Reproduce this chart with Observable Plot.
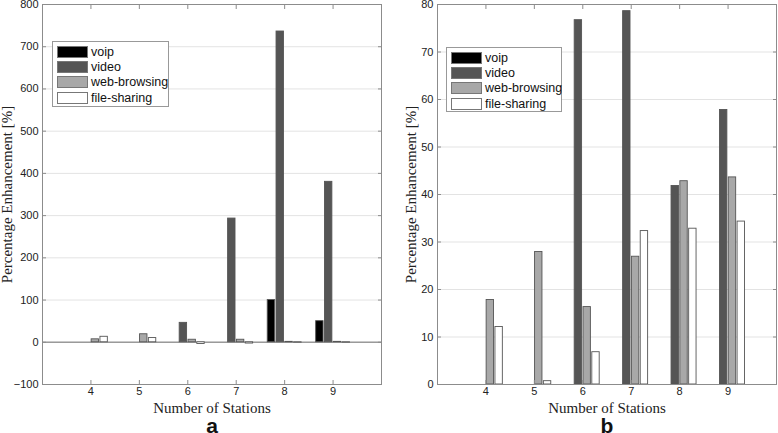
<!DOCTYPE html>
<html>
<head>
<meta charset="utf-8">
<script src="https://cdn.jsdelivr.net/npm/d3@7"></script>
<script src="https://cdn.jsdelivr.net/npm/@observablehq/plot@0.6"></script>
<style>
  html, body { margin: 0; padding: 0; background: #fff; }
  #wrap { position: relative; width: 778px; height: 433px; display: flex; }
  .legend { position: absolute; border: 1px solid #999; background: #fff; font-family: "Liberation Sans", Arial, sans-serif; font-size: 12.5px; color: #111; padding: 2px 4px 1px 4px; box-sizing: border-box; white-space: nowrap; }
  .legend .row { display: flex; align-items: center; height: 15.3px; }
  .legend .sw { width: 31px; height: 12px; border: 1px solid #777; box-sizing: border-box; margin-right: 3px; flex: none; }
</style>
</head>
<body>
<div id="wrap"></div>
<script>
const stations = [4, 5, 6, 7, 8, 9];
const seriesNames = ["voip", "video", "web-browsing", "file-sharing"];
const seriesColors = ["#000000", "#555555", "#a8a8a8", "#ffffff"];

// Panel a
const voipA  = [0, 0, 0, 0, 100, 50];
const videoA = [0, 0, 46, 293, 736, 380];
const webA   = [7, 19, 6, 6, 1, 1];
const fileA  = [13, 10, -4, -3, -1, -1];
const yTicksA = [-100, 0, 100, 200, 300, 400, 500, 600, 700, 800];

// Panel b
const voipB  = [0, 0, 0, 0, 0, 0];
const videoB = [0, 0, 76.7, 78.6, 41.8, 57.8];
const webB   = [17.8, 27.9, 16.3, 26.9, 42.8, 43.6];
const fileB  = [12.1, 0.7, 6.8, 32.3, 32.8, 34.3];
const yTicksB = [0, 10, 20, 30, 40, 50, 60, 70, 80];

const xLabel = "Number of Stations";
const yLabel = "Percentage Enhancement [%]";

function buildRows(seriesArrays) {
  const n = seriesArrays.length;
  const groupWidth = Math.min(0.8, n / (n + 1.5));
  const barW = 0.8 * groupWidth / n * 1.05;
  const rows = [];
  seriesArrays.forEach((arr, i) => {
    const off = -groupWidth / 2 + (2 * i + 1) * groupWidth / (2 * n);
    arr.forEach((v, j) => {
      if (v === 0) return;
      rows.push({series: seriesNames[i], station: stations[j], value: v,
                 x1: stations[j] + off - barW / 2, x2: stations[j] + off + barW / 2});
    });
  });
  return rows;
}

function panel(opts) {
  const rows = buildRows(opts.series);
  const sans = "Liberation Sans, Arial, sans-serif";
  const serif = "Liberation Serif, Times New Roman, serif";
  return Plot.plot({
    width: 389, height: 433,
    marginTop: 4, marginBottom: 49, marginLeft: opts.ml, marginRight: opts.mr,
    style: {fontFamily: sans, fontSize: "11px", color: "#222", background: "#fff"},
    x: {domain: [3, 10], ticks: stations},
    y: {domain: opts.yDomain, ticks: opts.yTicks},
    color: {domain: seriesNames, range: seriesColors},
    marks: [
      Plot.ruleY(opts.yTicks, {stroke: "#e3e3e3", strokeWidth: 1}),
      opts.zeroLine ? Plot.ruleY([0], {stroke: "#9a9a9a", strokeWidth: 1.5}) : null,
      Plot.rectY(rows, {x1: "x1", x2: "x2", y1: 0, y2: "value", fill: "series", stroke: "#555", strokeWidth: 0.9}),
      Plot.frame({stroke: "#8c8c8c", strokeWidth: 1}),
      Plot.axisX({ticks: stations, tickFormat: "d", tickSize: 0, tickPadding: 3, label: null, fontSize: 11}),
      Plot.axisX({ticks: stations, tickSize: -4, text: null, label: null, stroke: "#8c8c8c"}),
      Plot.axisX({anchor: "top", ticks: stations, tickSize: -4, text: null, label: null, stroke: "#8c8c8c"}),
      Plot.axisY({ticks: opts.yTicks, tickFormat: "d", tickSize: 0, tickPadding: 4, label: null, fontSize: 11}),
      Plot.axisY({ticks: opts.yTicks, tickSize: -4, text: null, label: null, stroke: "#8c8c8c"}),
      Plot.axisY({anchor: "right", ticks: opts.yTicks, tickSize: -4, text: null, label: null, stroke: "#8c8c8c"}),
      Plot.text([xLabel], {frameAnchor: "bottom", lineAnchor: "middle", dy: 24, fontFamily: serif, fontSize: 15, fill: "#222"}),
      Plot.text([yLabel], {frameAnchor: "left", textAnchor: "middle", lineAnchor: "middle", rotate: -90, dx: -opts.yLabOff, fontFamily: serif, fontSize: 15, fill: "#222"}),
      Plot.text([opts.tag], {frameAnchor: "bottom", lineAnchor: "middle", dy: 42, fontFamily: sans, fontSize: 21, fontWeight: "bold", fill: "#111"})
    ]
  });
}

const wrap = document.getElementById("wrap");
wrap.appendChild(panel({series: [voipA, videoA, webA, fileA], yDomain: [-100, 800], yTicks: yTicksA, ml: 42, mr: 8, zeroLine: true, yLabOff: 35, tag: "a"}));
wrap.appendChild(panel({series: [voipB, videoB, webB, fileB], yDomain: [0, 80], yTicks: yTicksB, ml: 48, mr: 2, zeroLine: false, yLabOff: 26, tag: "b"}));

function legend(left, top, width, height) {
  const d = document.createElement("div");
  d.className = "legend";
  d.style.left = left + "px"; d.style.top = top + "px";
  d.style.width = width + "px"; d.style.height = height + "px";
  seriesNames.forEach((name, i) => {
    const r = document.createElement("div"); r.className = "row";
    const s = document.createElement("div"); s.className = "sw"; s.style.background = seriesColors[i];
    const t = document.createElement("span"); t.textContent = name;
    r.appendChild(s); r.appendChild(t); d.appendChild(r);
  });
  wrap.appendChild(d);
}
legend(52, 41, 117, 66);
legend(446, 47, 116, 65);
</script>
</body>
</html>
